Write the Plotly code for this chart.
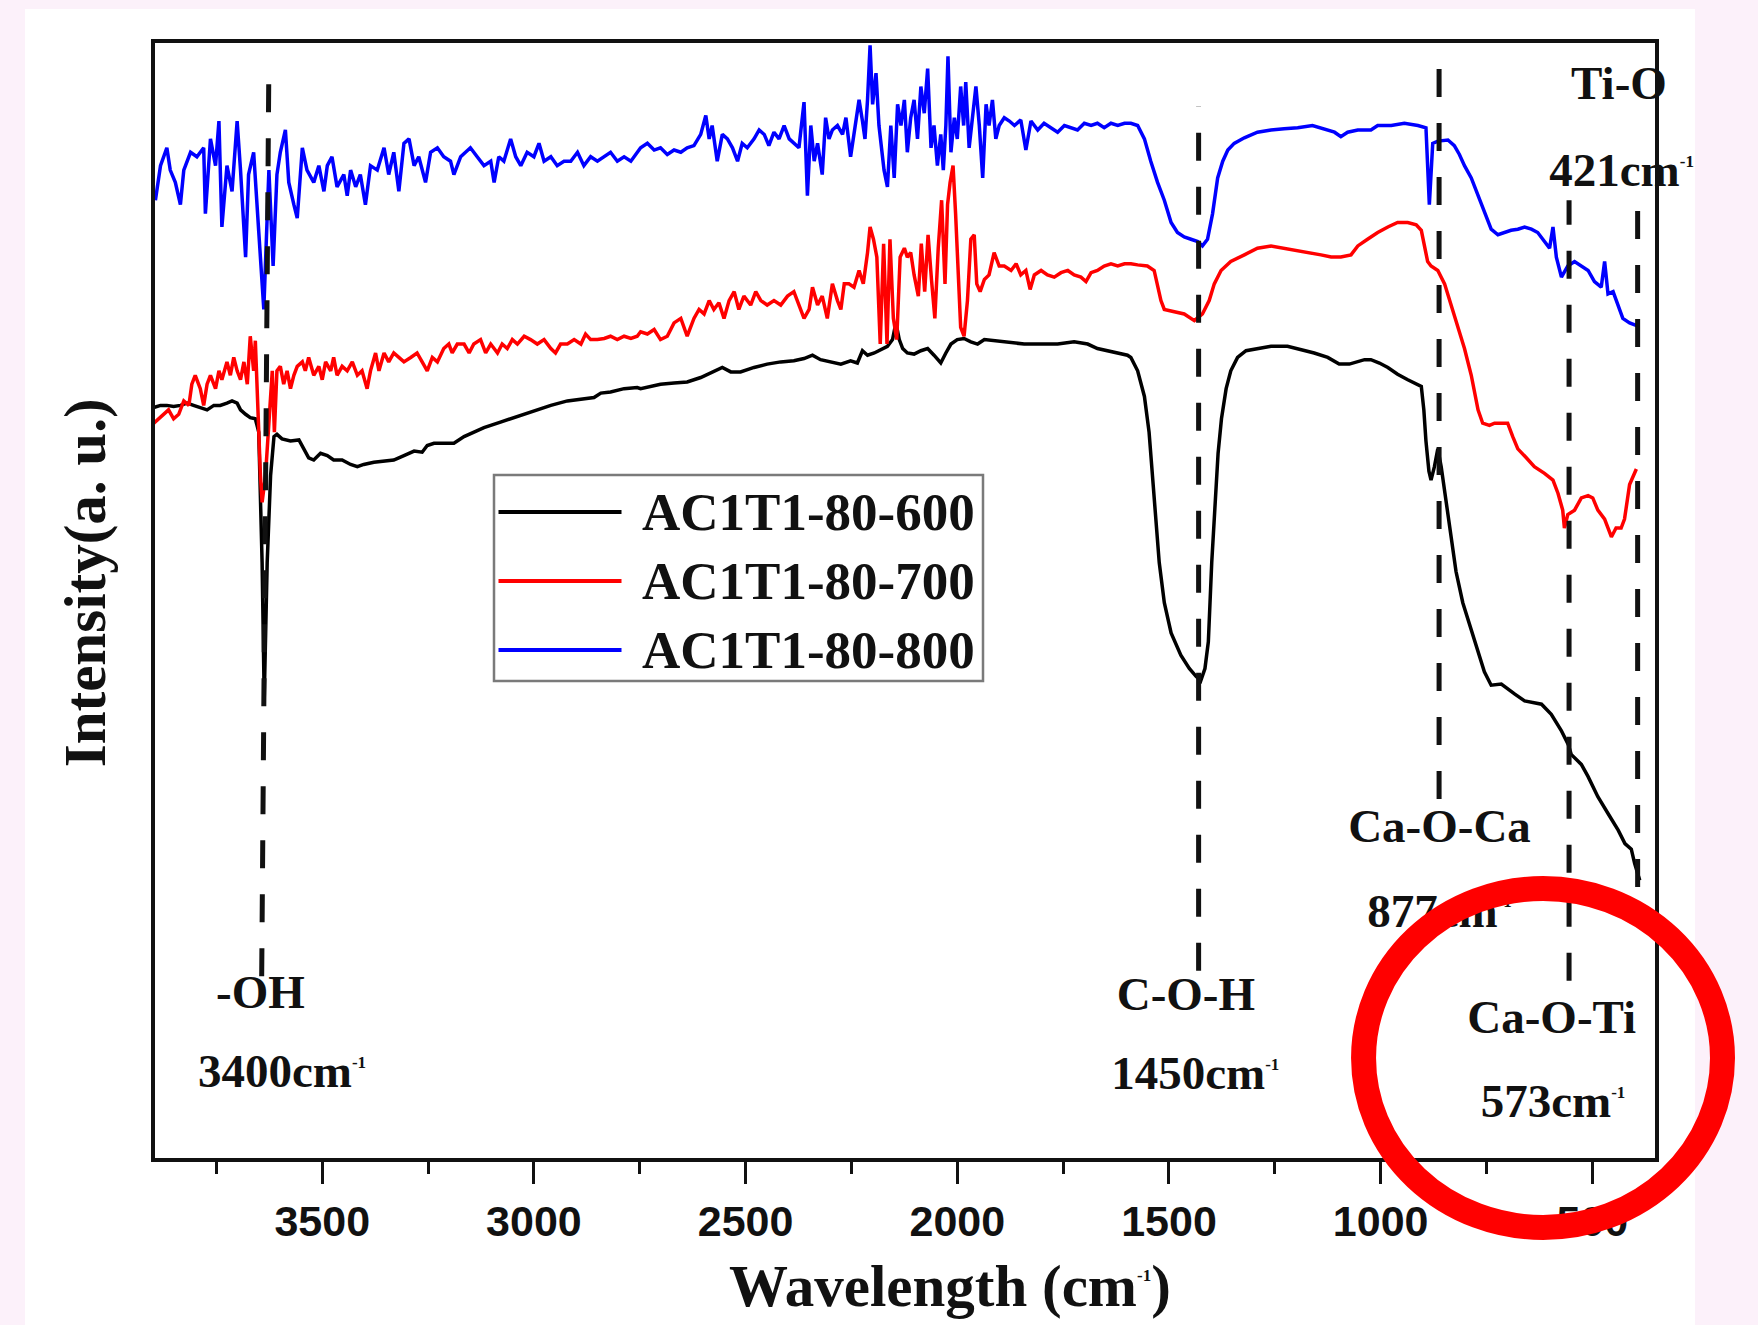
import plotly.graph_objects as go

# ---------------- FTIR spectra: wavenumber (cm^-1) and intensity (a.u.) ----------------
wn_600 = [3898, 3882, 3867, 3851, 3835, 3819, 3804, 3788, 3772, 3756, 3741, 3725, 3713, 3701,
          3693, 3681, 3670, 3658, 3650, 3642, 3637, 3630, 3622, 3614, 3607, 3595, 3575, 3555,
          3544, 3532, 3520, 3504, 3488, 3473, 3453, 3433, 3417, 3402, 3378, 3354, 3331, 3307,
          3283, 3264, 3252, 3236, 3213, 3189, 3165, 3142, 3118, 3079, 3039, 3000, 2960, 2921,
          2882, 2858, 2842, 2819, 2787, 2756,
          2748, 2724, 2701, 2669, 2638, 2606, 2575, 2555, 2535, 2512, 2480, 2449, 2417, 2386,
          2362, 2342, 2323, 2299, 2275, 2252, 2236, 2224, 2212, 2196, 2181, 2165, 2153, 2145,
          2137, 2129, 2118, 2102, 2086, 2070, 2055, 2039, 2027, 2015, 2000, 1984, 1968, 1952,
          1936, 1913, 1881, 1842, 1802, 1763, 1724, 1692, 1669, 1645, 1621, 1598,
          1590, 1574, 1558, 1547, 1539, 1531, 1523, 1511, 1495, 1472, 1452, 1436, 1425, 1415,
          1407, 1399, 1391, 1384, 1376, 1365, 1354, 1338, 1318, 1291, 1259, 1220, 1188, 1157,
          1125, 1098, 1074, 1054, 1038, 1023, 1003, 983, 960, 936, 916, 904, 898, 893, 886,
          881, 873, 865, 857, 845, 834, 822, 806, 790, 770, 755, 739,
          715, 683, 660, 620, 597, 573, 557, 550, 526, 510, 487, 463, 439, 423, 408, 400, 388]
int_600 = [67.3, 67.5, 67.5, 67.4, 67.5, 67.7, 67.5, 67.3, 67.1, 67.5, 67.5, 67.7, 67.9, 67.7,
           67.1, 66.7, 66.4, 66.3, 65.1, 53.4, 41.2, 53.4, 61.2, 64.7, 64.9, 64.5, 64.3, 64.4,
           63.7, 62.8, 62.6, 63.2, 63.0, 62.6, 62.6, 62.2, 62.0, 62.2, 62.4, 62.5, 62.6, 63.0,
           63.4, 63.3, 63.9, 64.1, 64.1, 64.1, 64.7, 65.1, 65.5, 66.0, 66.5, 67.0, 67.5, 67.9,
           68.1, 68.2, 68.6, 68.7, 69.0, 69.1,
           69.0, 69.2, 69.4, 69.5, 69.6, 70.0, 70.6, 70.9, 70.5, 70.5, 70.9, 71.2, 71.4, 71.5,
           71.7, 72.0, 71.6, 71.4, 71.2, 71.5, 71.3, 72.4, 72.0, 72.2, 72.5, 72.8, 73.4, 74.9,
           73.4, 72.6, 72.2, 72.1, 72.4, 72.6, 72.0, 71.3, 72.2, 73.0, 73.4, 73.5, 73.2, 73.0,
           73.4, 73.3, 73.2, 73.0, 73.0, 73.0, 73.2, 73.0, 72.6, 72.4, 72.2, 72.0,
           71.8, 70.6, 68.3, 65.1, 61.2, 57.3, 53.4, 49.8, 47.1, 45.1, 43.9, 43.2, 42.8, 43.9,
           46.3, 53.4, 59.2, 63.2, 66.3, 69.0, 70.6, 71.8, 72.4, 72.6, 72.8, 72.8, 72.5, 72.2,
           71.8, 71.2, 71.2, 71.4, 71.6, 71.6, 71.3, 70.9, 70.3, 69.8, 69.4, 69.2, 67.1, 64.3, 61.6,
           60.8, 62.0, 63.6, 62.0, 58.8, 55.7, 52.6, 49.8, 47.9, 45.5, 43.6, 42.4,
           42.5, 41.6, 41.0, 40.7, 39.8, 38.3, 37.1, 36.2, 35.3, 34.2, 32.4, 30.9, 29.4, 28.2, 27.7, 26.4, 24.9]

wn_700 = [3898, 3886, 3874, 3863, 3851, 3839, 3827, 3815, 3808, 3800, 3788, 3780, 3772, 3764,
          3752, 3744, 3737, 3725, 3717, 3709, 3701, 3693, 3685, 3677, 3670, 3662, 3658, 3654,
          3650, 3646, 3642, 3634, 3626, 3618, 3613, 3607, 3599, 3591, 3583, 3575, 3567, 3559,
          3547, 3540, 3532, 3520, 3508, 3500, 3492, 3480, 3473, 3465, 3453, 3441, 3429, 3417,
          3406, 3394, 3386, 3374, 3366, 3354, 3343, 3331, 3319, 3307, 3291, 3276, 3264, 3252,
          3240, 3228, 3213, 3201, 3193, 3181, 3165, 3153, 3142, 3126, 3114, 3102, 3086, 3075,
          3063, 3051, 3039, 3023, 3008, 2992, 2976, 2960, 2949, 2937, 2921, 2905, 2889, 2878,
          2866, 2850, 2834, 2819, 2803, 2787, 2771, 2756,
          2748, 2732, 2716, 2701, 2685, 2669, 2653, 2638, 2622, 2610, 2598, 2586, 2575, 2563,
          2551, 2539, 2527, 2516, 2504, 2488, 2476, 2464, 2449, 2433, 2417, 2401, 2386, 2374,
          2362, 2350, 2342, 2330, 2319, 2307, 2295, 2283, 2275, 2267, 2256, 2244, 2232, 2222,
          2212, 2206, 2198, 2190, 2182, 2174, 2166, 2159, 2151, 2143, 2135, 2125, 2118, 2110,
          2102, 2092, 2085, 2077, 2069, 2061, 2053, 2045, 2037, 2029, 2023, 2017, 2010, 2004,
          1998, 1992, 1984, 1976, 1968, 1960, 1954, 1946, 1936, 1925, 1913, 1901, 1889, 1873,
          1861, 1850, 1838, 1828, 1818, 1802, 1787, 1771, 1755, 1739, 1724, 1708, 1696, 1684,
          1669, 1653, 1637, 1621, 1605,
          1590, 1574, 1551, 1535, 1527, 1519, 1511, 1488, 1464, 1440, 1421, 1405, 1393, 1377,
          1354, 1322, 1291, 1259, 1228, 1196, 1165, 1141, 1117, 1094, 1070, 1054, 1031, 1007,
          983, 960, 936, 916, 904, 897, 889, 881, 865, 849, 834, 818, 802, 786, 770, 759, 743,
          731, 715, 700, 688, 676, 656, 637, 613, 593, 581, 570, 566, 558, 542, 526, 510, 499,
          487, 471, 455, 444, 432, 424, 412, 396]
int_700 = [65.9, 66.3, 66.7, 67.1, 66.3, 66.7, 67.9, 67.5, 69.4, 70.2, 69.0, 67.5, 69.4, 70.2,
           69.0, 70.6, 69.8, 71.4, 70.2, 71.8, 70.6, 69.8, 71.4, 69.4, 73.7, 70.6, 73.3, 69.0,
           66.3, 61.2, 58.8, 61.2, 65.9, 70.6, 65.1, 70.6, 71.0, 69.4, 70.6, 69.0, 70.2, 71.0,
           71.4, 70.6, 71.8, 70.2, 71.0, 69.8, 71.4, 70.6, 71.8, 70.2, 71.0, 70.6, 71.4, 70.2,
           70.6, 69.0, 70.6, 72.2, 70.6, 72.2, 71.4, 72.2, 71.8, 71.4, 71.8, 72.2, 71.4, 70.6,
           71.8, 71.4, 72.6, 73.0, 72.2, 73.0, 73.0, 72.2, 73.0, 73.4, 72.2, 73.0, 72.2, 73.0,
           72.6, 73.4, 73.0, 73.7, 73.4, 73.0, 73.4, 72.6, 72.2, 73.0, 73.0, 73.4, 73.0, 73.9,
           73.4, 73.4, 73.5, 73.7, 73.4, 73.7, 73.5, 73.7,
           74.1, 73.9, 74.3, 73.4, 73.7, 74.9, 75.3, 73.7, 75.3, 76.1, 75.7, 76.9, 76.1, 76.7,
           75.3, 76.9, 77.7, 76.1, 77.3, 76.5, 77.7, 76.9, 76.5, 76.9, 76.5, 77.3, 77.7, 76.5,
           75.3, 76.1, 78.1, 76.5, 77.3, 75.3, 78.4, 76.9, 76.1, 78.4, 78.4, 78.1, 79.6, 78.4,
           81.2, 83.5, 82.4, 80.8, 73.0, 82.0, 73.0, 82.4, 75.3, 73.4, 80.8, 81.6, 80.8, 81.2,
           79.2, 77.3, 82.0, 77.7, 82.8, 78.8, 75.3, 81.6, 85.9, 78.4, 85.5, 87.5, 89.0, 84.7,
           79.6, 74.5, 73.7, 76.9, 82.4, 82.8, 78.4, 77.7, 78.8, 79.2, 81.2, 80.0, 80.0, 79.6,
           80.2, 79.2, 79.6, 77.9, 79.2, 79.6, 79.2, 79.0, 79.4, 79.6, 79.2, 79.0, 78.6, 79.4,
           79.6, 80.0, 80.2, 80.0, 80.2,
           80.2, 80.1, 80.0, 79.6, 78.1, 76.9, 76.1, 75.9, 75.7, 75.1, 75.7, 76.9, 78.4, 79.6,
           80.4, 81.0, 81.6, 81.8, 81.6, 81.4, 81.2, 81.0, 80.8, 80.8, 81.0, 81.8, 82.4, 83.0,
           83.5, 83.9, 83.9, 83.7, 83.2, 82.0, 80.4, 80.0, 79.6, 78.4, 76.5, 74.5, 72.6, 70.2,
           67.1, 65.9, 65.7, 65.9, 65.9, 65.9, 64.7, 63.6, 62.8, 62.0, 61.4, 60.8, 59.6, 58.1,
           56.5, 57.7, 58.1, 59.2, 59.4, 59.2, 58.1, 57.3, 55.7, 56.5, 56.5, 57.3, 60.4, 61.8]

wn_800 = [3894, 3882, 3867, 3859, 3847, 3835, 3827, 3811, 3796, 3780, 3776, 3764, 3752, 3744,
          3737, 3725, 3713, 3701, 3693, 3681, 3674, 3662, 3650, 3638, 3626, 3616, 3607, 3599,
          3587, 3579, 3567, 3559, 3547, 3536, 3520, 3508, 3496, 3488, 3477, 3465, 3449, 3441,
          3433, 3421, 3410, 3398, 3386, 3370, 3354, 3343, 3331, 3319, 3307, 3295, 3283, 3272,
          3256, 3244, 3228, 3213, 3197, 3189, 3173, 3150, 3134, 3118, 3102, 3094, 3083, 3071,
          3055, 3043, 3031, 3016, 3000, 2988, 2976, 2960, 2945, 2929, 2913, 2897, 2882, 2866,
          2850, 2834, 2819, 2803, 2787, 2771, 2756,
          2748, 2732, 2716, 2701, 2685, 2669, 2653, 2638, 2622, 2606, 2594, 2586, 2579, 2567,
          2555, 2543, 2531, 2519, 2508, 2496, 2480, 2468, 2456, 2445, 2433, 2421, 2409, 2397,
          2386, 2374, 2362, 2354, 2346, 2338, 2330, 2319, 2311, 2303, 2295, 2283, 2271, 2263,
          2252, 2240, 2232, 2224, 2218, 2212, 2206, 2200, 2192, 2185, 2173, 2165, 2157, 2149,
          2141, 2133, 2125, 2118, 2110, 2102, 2094, 2086, 2078, 2070, 2062, 2055, 2047, 2039,
          2033, 2027, 2022, 2015, 2007, 2000, 1992, 1985, 1980, 1972, 1964, 1956, 1948, 1940,
          1932, 1925, 1917, 1909, 1901, 1889, 1877, 1865, 1850, 1838, 1826, 1810, 1795, 1779,
          1763, 1747, 1731, 1716, 1700, 1684, 1669, 1653, 1637, 1621, 1605,
          1590, 1574, 1558, 1543, 1527, 1511, 1495, 1480, 1464, 1448, 1432, 1421, 1409, 1397,
          1385, 1373, 1361, 1346, 1322, 1291, 1259, 1228, 1196, 1161, 1125, 1109, 1094, 1078,
          1054, 1038, 1023, 1007, 975, 944, 912, 893, 885, 877, 865, 841, 826, 814, 802, 786,
          770, 755, 739, 723, 707, 692, 676, 660, 644, 629, 613, 601, 593, 585, 573, 558, 542,
          526, 510, 495, 479, 471, 463, 451, 440, 428, 412, 392]
int_800 = [85.9, 89.0, 90.6, 88.6, 87.5, 85.5, 88.6, 90.2, 89.8, 90.6, 84.7, 91.4, 89.0, 93.0,
           83.5, 89.0, 86.7, 93.0, 88.6, 80.8, 88.2, 90.2, 83.1, 76.1, 88.6, 80.0, 88.2, 90.2,
           92.2, 87.5, 85.5, 84.3, 90.6, 88.6, 87.5, 89.0, 86.7, 89.0, 89.8, 87.1, 88.2, 86.3,
           88.6, 87.1, 88.2, 85.5, 89.0, 88.6, 90.6, 88.2, 90.2, 86.7, 91.0, 91.4, 89.0, 89.8,
           87.5, 90.2, 90.6, 89.8, 89.4, 88.2, 89.8, 90.6, 89.8, 89.0, 89.4, 87.5, 89.8, 89.4,
           91.4, 89.8, 89.0, 90.2, 89.8, 91.0, 89.4, 89.8, 89.0, 89.4, 89.4, 90.2, 89.0, 89.8,
           89.4, 89.8, 90.2, 89.4, 89.8, 89.4, 90.2,
           90.6, 91.0, 90.4, 90.6, 90.0, 90.4, 90.2, 90.6, 90.8, 91.8, 93.5, 91.4, 92.6, 89.4,
           91.8, 91.4, 90.6, 89.4, 91.0, 90.6, 91.4, 92.2, 91.8, 90.8, 92.0, 91.4, 92.6, 91.4,
           91.0, 90.6, 94.7, 86.3, 92.6, 89.4, 91.0, 88.2, 93.3, 91.4, 92.2, 92.6, 91.8, 93.3,
           89.8, 92.6, 94.9, 93.0, 91.4, 94.9, 99.8, 94.5, 97.3, 92.6, 88.6, 87.1, 92.6, 87.9,
           94.5, 92.6, 94.9, 90.2, 93.3, 94.9, 91.4, 96.1, 93.7, 97.7, 90.6, 92.6, 89.0, 91.8,
           88.6, 92.6, 98.8, 90.2, 93.3, 91.4, 96.1, 92.6, 96.5, 90.6, 93.3, 96.1, 92.6, 87.9,
           94.5, 92.6, 94.9, 91.4, 92.6, 93.3, 93.0, 92.6, 93.1, 90.4, 93.0, 92.2, 92.8, 92.4,
           92.0, 92.6, 92.4, 92.2, 92.8, 92.6, 92.8, 92.4, 92.8, 92.6, 92.8,
           92.8, 92.6, 91.4, 89.4, 87.5, 85.9, 83.9, 83.0, 82.6, 82.4, 82.2, 81.8, 82.4, 84.7,
           87.9, 89.4, 90.4, 91.0, 91.5, 92.0, 92.2, 92.3, 92.4, 92.6, 92.2, 92.0, 91.6, 92.0,
           92.2, 92.2, 92.2, 92.6, 92.6, 92.8, 92.6, 92.4, 85.5, 91.0, 91.2, 91.3, 90.8, 90.0, 89.0, 87.9,
           86.3, 84.7, 83.3, 82.8, 83.0, 83.2, 83.3, 83.5, 83.3, 83.0, 82.2, 81.6, 83.5, 80.8, 79.0, 80.0, 80.4,
           80.0, 79.6, 78.6, 78.1, 80.4, 77.5, 77.7, 76.5, 75.3, 74.9, 74.6]

series_names = ["AC1T1-80-600", "AC1T1-80-700", "AC1T1-80-800"]
series_colors = ["#000000", "#FF0000", "#0000FF"]
series_x = [wn_600, wn_700, wn_800]
series_y = [int_600, int_700, int_800]

# ---------------- band assignments ----------------
band_groups = ["-OH", "C-O-H", "Ca-O-Ca", "Ca-O-Ti", "Ti-O"]
band_values = [3400, 1450, 877, 573, 421]          # labelled wavenumbers (cm^-1)
band_line_bottom_x = [3643, 1430, 862, 555, 393]  # marker line, lower end (cm^-1)
band_line_top_x = [3626, 1430, 862, 555, 393]     # marker line, upper end (cm^-1)
band_line_y0 = [16.3, 16.8, 32.2, 15.9, 24.3]
band_line_y1 = [98.3, 94.3, 99.3, 85.9, 86.5]

# label anchor points (wavenumber, intensity) for group name and value text
name_xy = [(3646, 14.5), (1460, 14.3), (861, 29.4), (596, 12.3), (437, 96.0)]
value_xy = [(3595, 7.4), (1438, 7.2), (861, 21.8), (593, 4.7), (431, 88.2)]

SERIF = "Liberation Serif, Times New Roman, serif"
SANS = "Liberation Sans, Arial, sans-serif"
SUP = "<sup><span style='font-size:17px'>-1</span></sup>"

fig = go.Figure()

for name, color, xs, ys in zip(series_names, series_colors, series_x, series_y):
    fig.add_trace(go.Scatter(x=xs, y=ys, mode="lines", name=name,
                             line=dict(color=color, width=3.5), showlegend=False))

label_x = [p[0] for p in name_xy] + [p[0] for p in value_xy]
label_y = [p[1] for p in name_xy] + [p[1] for p in value_xy]
label_text = band_groups + [f"{v}cm{SUP}" for v in band_values]
fig.add_trace(go.Scatter(x=label_x, y=label_y, mode="text", text=label_text,
                         textposition="middle center", cliponaxis=False, showlegend=False,
                         hoverinfo="skip",
                         textfont=dict(family=SERIF, size=47, color="#111111", weight="bold")))

shapes = []
# white card behind the figure
shapes.append(dict(type="rect", xref="paper", yref="paper", x0=-0.0867, x1=1.0267,
                   y0=-0.3, y1=1.0305, fillcolor="white", line=dict(width=0), layer="below"))

# dashed band marker lines
for xb, xt, y0, y1 in zip(band_line_bottom_x, band_line_top_x, band_line_y0, band_line_y1):
    shapes.append(dict(type="line", xref="x", yref="y", x0=xb, x1=xt, y0=y0, y1=y1,
                       line=dict(color="#111111", width=5, dash="28px,26px"), layer="above"))

# legend box
lg_x0, lg_x1, lg_y0, lg_y1 = 0.226, 0.552, 0.4278, 0.6126
shapes.append(dict(type="rect", xref="paper", yref="paper", x0=lg_x0, x1=lg_x1,
                   y0=lg_y0, y1=lg_y1, fillcolor="white",
                   line=dict(color="#7a7a7a", width=2.5), layer="above"))
row_y = [0.5794, 0.5175, 0.4556]
annotations = []
for name, color, ry in zip(series_names, series_colors, row_y):
    shapes.append(dict(type="line", xref="paper", yref="paper", x0=0.229, x1=0.311,
                       y0=ry, y1=ry, line=dict(color=color, width=4), layer="above"))
    annotations.append(dict(xref="paper", yref="paper", x=0.323, y=ry, text=name,
                            showarrow=False, xanchor="left", yanchor="middle",
                            font=dict(family=SERIF, size=53, color="#111111", weight="bold")))

# red highlight ring
shapes.append(dict(type="circle", xref="paper", yref="paper", x0=0.8057, x1=1.045,
                   y0=-0.0623, y1=0.2417, line=dict(color="#FF0000", width=25),
                   fillcolor="rgba(0,0,0,0)", layer="above"))

# axis titles
annotations.append(dict(xref="paper", yref="paper", x=0.53, y=-0.115,
                        text=f"Wavelength (cm{SUP})", showarrow=False,
                        xanchor="center", yanchor="middle",
                        font=dict(family=SERIF, size=59, color="#111111", weight="bold")))
annotations.append(dict(xref="paper", yref="paper", x=-0.0465, y=0.5157,
                        text="Intensity(a. u.)", showarrow=False, textangle=-90,
                        xanchor="center", yanchor="middle",
                        font=dict(family=SERIF, size=59, color="#111111", weight="bold")))

fig.update_layout(
    width=1758, height=1325,
    margin=dict(l=155, r=103, t=43, b=167),
    paper_bgcolor="#FCF1FA", plot_bgcolor="white",
    shapes=shapes, annotations=annotations,
    showlegend=False,
)
fig.update_xaxes(range=[3895, 352], showgrid=False, zeroline=False,
                 showline=True, linewidth=4, linecolor="#111111", mirror=True,
                 tick0=0, dtick=500, ticks="outside", ticklen=22, tickwidth=3,
                 tickcolor="#111111", ticklabelstandoff=0,
                 tickfont=dict(family=SANS, size=43, color="#111111", weight="bold"),
                 minor=dict(dtick=250, ticks="outside", ticklen=12, tickwidth=3,
                            tickcolor="#111111"))
fig.update_yaxes(range=[0, 100], showgrid=False, zeroline=False, showticklabels=False,
                 showline=True, linewidth=4, linecolor="#111111", mirror=True, ticks="")

fig.write_html("out.html")
